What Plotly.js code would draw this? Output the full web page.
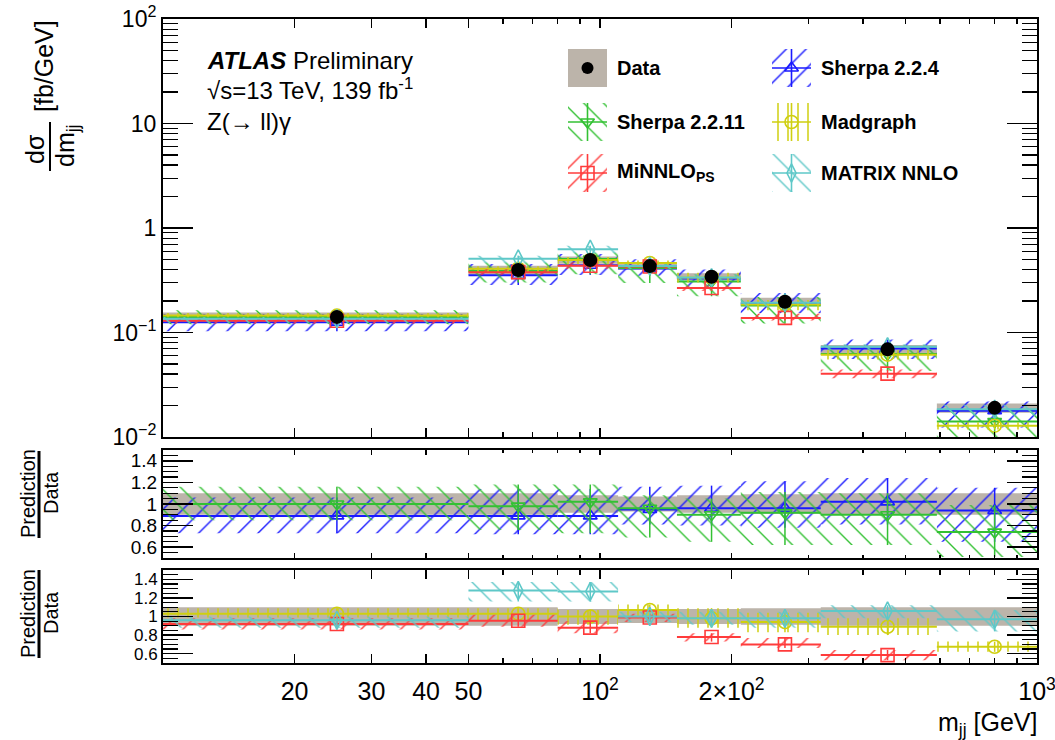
<!DOCTYPE html>
<html><head><meta charset="utf-8">
<script src="https://cdn.plot.ly/plotly-3.0.1.min.js"></script>
<style>html,body{margin:0;padding:0;background:#fff;}#chart{width:1055px;height:740px;}</style>
</head><body><div id="chart"></div>
<script>
// ---------------- data ----------------
const binEdges   = [10, 50, 80, 110, 150, 210, 320, 590, 1000];
const binCenters = [25, 65, 95, 130, 180, 265, 455, 800];
const dataXsec   = [0.141, 0.396, 0.494, 0.432, 0.342, 0.197, 0.069, 0.019];
const dataRelUnc = [0.10, 0.10, 0.08, 0.07, 0.08, 0.09, 0.10, 0.10];

const sherpa224Ratio = [0.89, 0.89, 0.89, 0.95, 0.96, 0.96, 1.02, 0.94];
const sherpa224Lo    = [0.73, 0.72, 0.72, 0.81, 0.80, 0.78, 0.81, 0.65];
const sherpa224Hi    = [1.06, 1.14, 1.14, 1.16, 1.17, 1.21, 1.24, 1.15];

const sherpa2211Ratio = [1.00, 0.98, 1.02, 0.96, 0.90, 0.92, 0.90, 0.74];
const sherpa2211Lo    = [0.85, 0.76, 0.73, 0.69, 0.65, 0.62, 0.62, 0.51];
const sherpa2211Hi    = [1.16, 1.18, 1.18, 1.08, 1.05, 1.11, 1.10, 0.99];

const madgraphRatio = [1.03, 1.03, 1.00, 1.07, 0.98, 0.94, 0.89, 0.675];
const madgraphLo    = [0.99, 0.96, 0.91, 0.98, 0.88, 0.83, 0.80, 0.62];
const madgraphHi    = [1.09, 1.09, 1.07, 1.13, 1.09, 1.04, 0.98, 0.73];

const minnloRatio = [0.92, 0.955, 0.88, 0.99, 0.78, 0.70, 0.585, null];
const minnloLo    = [0.86, 0.89, 0.82, 0.94, 0.73, 0.66, 0.53, null];
const minnloHi    = [0.98, 1.02, 0.95, 1.03, 0.82, 0.77, 0.64, null];

const matrixRatio = [0.96, 1.28, 1.27, 1.00, 0.98, 0.98, 1.06, 0.97];
const matrixLo    = [0.88, 1.16, 1.16, 0.94, 0.91, 0.88, 0.98, 0.84];
const matrixHi    = [1.00, 1.37, 1.37, 1.05, 1.05, 1.05, 1.12, 1.07];

const xTickVals  = [20, 30, 40, 50, 100, 200, 1000];
const xTickText  = ['20', '30', '40', '50', '10<sup>2</sup>', '2×10<sup>2</sup>', '10<sup>3</sup>'];
const xMinorVals = [60, 70, 80, 90, 300, 400, 500, 600, 700, 800, 900];
const yTickVals  = [0.01, 0.1, 1, 10, 100];
const yTickText  = ['10<sup>−2</sup>', '10<sup>−1</sup>', '1', '10', '10<sup>2</sup>'];
const rTickVals  = [0.6, 0.8, 1, 1.2, 1.4];
const rTickText  = ['0.6', '0.8', '1', '1.2', '1.4'];

// ---------------- styles ----------------
const FONT = 'Liberation Sans, Arial, Helvetica, sans-serif';
const BANDCOL = '#bcb4aa';
const series = {
  s224:  {name:'Sherpa 2.2.4',  ratio:sherpa224Ratio,  lo:sherpa224Lo,  hi:sherpa224Hi,  color:'#1a1aff', shape:'/',  psize:14, sol:0.1,  symbol:'triangle-up-open',   msize:12},
  s2211: {name:'Sherpa 2.2.11', ratio:sherpa2211Ratio, lo:sherpa2211Lo, hi:sherpa2211Hi, color:'#33c133', shape:'\\', psize:14, sol:0.1,  symbol:'triangle-down-open', msize:12},
  mg:    {name:'Madgraph',      ratio:madgraphRatio,   lo:madgraphLo,   hi:madgraphHi,   color:'#cfcf10', shape:'|',  psize:10, sol:0.15, symbol:'circle-open',        msize:13},
  mi:    {name:'MiNNLO_PS',     ratio:minnloRatio,     lo:minnloLo,     hi:minnloHi,     color:'#ff3b3b', shape:'/',  psize:14, sol:0.1,  symbol:'square-open',        msize:13},
  mx:    {name:'MATRIX NNLO',   ratio:matrixRatio,     lo:matrixLo,     hi:matrixHi,     color:'#5ec8c8', shape:'\\', psize:14, sol:0.1,  symbol:'diamond-tall-open',  msize:13}
};

// ---------------- geometry ----------------
const L = 163, R = 1037, T = 19, B = 663;
const px = x => (x - L) / (R - L);
const py = y => (B - y) / (B - T);

// ---------------- helpers ----------------
function boxes(lo, hi) {
  const x = [], y = [];
  for (let i = 0; i < binCenters.length; i++) {
    if (lo[i] == null || hi[i] == null) continue;
    const a = binEdges[i], b = binEdges[i + 1];
    x.push(a, b, b, a, a, null);
    y.push(lo[i], lo[i], hi[i], hi[i], lo[i], null);
  }
  return {x, y};
}
function steps(v) {
  const x = [], y = [];
  for (let i = 0; i < binCenters.length; i++) {
    if (v[i] == null) continue;
    x.push(binEdges[i], binEdges[i + 1], null);
    y.push(v[i], v[i], null);
  }
  return {x, y};
}
function predTraces(s, xa, ya, scale) {
  const c  = s.ratio.map((r, i) => r == null ? null : r * scale[i]);
  const lo = s.lo.map((r, i) => r == null ? null : r * scale[i]);
  const hi = s.hi.map((r, i) => r == null ? null : r * scale[i]);
  const bx = boxes(lo, hi), st = steps(c);
  const mx = [], my = [], ep = [], em = [];
  for (let i = 0; i < binCenters.length; i++) {
    if (c[i] == null) continue;
    mx.push(binCenters[i]); my.push(c[i]); ep.push(hi[i] - c[i]); em.push(c[i] - lo[i]);
  }
  return [
    {type:'scatter', x:bx.x, y:bx.y, xaxis:xa, yaxis:ya, mode:'lines', line:{width:0, color:s.color},
     fill:'toself', fillcolor:'rgba(0,0,0,0)',
     fillpattern:{shape:s.shape, size:s.psize, solidity:s.sol, fgcolor:s.color, bgcolor:'rgba(0,0,0,0)', fillmode:'replace'},
     hoverinfo:'skip', showlegend:false, name:s.name},
    {type:'scatter', x:st.x, y:st.y, xaxis:xa, yaxis:ya, mode:'lines', line:{width:2, color:s.color},
     hoverinfo:'skip', showlegend:false, name:s.name},
    {type:'scatter', x:mx, y:my, xaxis:xa, yaxis:ya, mode:'markers',
     marker:{symbol:s.symbol, size:s.msize, color:s.color, line:{color:s.color, width:1.6}},
     error_y:{type:'data', symmetric:false, array:ep, arrayminus:em, color:s.color, thickness:1.5, width:0},
     hoverinfo:'skip', showlegend:false, name:s.name}
  ];
}
function dataBand(xa, ya, scale) {
  const lo = dataRelUnc.map((u, i) => (1 - u) * scale[i]);
  const hi = dataRelUnc.map((u, i) => (1 + u) * scale[i]);
  const bx = boxes(lo, hi);
  return {type:'scatter', x:bx.x, y:bx.y, xaxis:xa, yaxis:ya, mode:'lines', line:{width:0, color:BANDCOL},
          fill:'toself', fillcolor:BANDCOL, hoverinfo:'skip', showlegend:false, name:'Data'};
}

const ones = binCenters.map(() => 1);
const traces = [];
// main panel
traces.push(dataBand('x3', 'y', dataXsec));
['s224', 's2211', 'mg', 'mi', 'mx'].forEach(k => traces.push(...predTraces(series[k], 'x3', 'y', dataXsec)));
traces.push({type:'scatter', x:binCenters, y:dataXsec, xaxis:'x3', yaxis:'y', mode:'markers',
  marker:{symbol:'circle', size:14, color:'#000'}, hoverinfo:'skip', showlegend:false, name:'Data'});
// ratio 1
traces.push(dataBand('x2', 'y2', ones));
['s224', 's2211'].forEach(k => traces.push(...predTraces(series[k], 'x2', 'y2', ones)));
// ratio 2
traces.push(dataBand('x', 'y3', ones));
['mg', 'mi', 'mx'].forEach(k => traces.push(...predTraces(series[k], 'x', 'y3', ones)));

// ---------------- legend (drawn in pixel space on an overlay subplot) ----------------
const colX = [568, 772], rowY = [49, 103, 154], BW = 39, BH = 38;
const legendLayout = [['data', 0, 0], ['s224', 1, 0], ['s2211', 0, 1], ['mg', 1, 1], ['mi', 0, 2], ['mx', 1, 2]];
const legendText = {data:'Data', s224:'Sherpa 2.2.4', s2211:'Sherpa 2.2.11', mg:'Madgraph', mi:'MiNNLO<sub>PS</sub>', mx:'MATRIX NNLO'};
const annotations = [];
legendLayout.forEach(([k, c, r]) => {
  const x0 = colX[c], y0 = rowY[r], x1 = x0 + BW, y1 = y0 + BH, xm = (x0 + x1) / 2, ym = (y0 + y1) / 2;
  if (k === 'data') {
    traces.push({type:'scatter', x:[x0, x1, x1, x0, x0], y:[y0, y0, y1, y1, y0], xaxis:'x4', yaxis:'y4', mode:'lines',
      line:{width:0, color:BANDCOL}, fill:'toself', fillcolor:BANDCOL, hoverinfo:'skip', showlegend:false});
    traces.push({type:'scatter', x:[xm], y:[ym], xaxis:'x4', yaxis:'y4', mode:'markers',
      marker:{symbol:'circle', size:12, color:'#000'}, hoverinfo:'skip', showlegend:false});
  } else {
    const s = series[k];
    traces.push({type:'scatter', x:[x0, x1, x1, x0, x0], y:[y0, y0, y1, y1, y0], xaxis:'x4', yaxis:'y4', mode:'lines',
      line:{width:0, color:s.color}, fill:'toself', fillcolor:'rgba(0,0,0,0)',
      fillpattern:{shape:s.shape, size:s.psize, solidity:s.sol, fgcolor:s.color, bgcolor:'rgba(0,0,0,0)', fillmode:'replace'},
      hoverinfo:'skip', showlegend:false});
    traces.push({type:'scatter', x:[x0, x1, null, xm, xm], y:[ym, ym, null, y0, y1], xaxis:'x4', yaxis:'y4', mode:'lines',
      line:{width:1.6, color:s.color}, hoverinfo:'skip', showlegend:false});
    traces.push({type:'scatter', x:[xm], y:[ym], xaxis:'x4', yaxis:'y4', mode:'markers',
      marker:{symbol:s.symbol, size:s.msize, color:s.color, line:{color:s.color, width:1.6}}, hoverinfo:'skip', showlegend:false});
  }
  annotations.push({xref:'paper', yref:'paper', x:px(x1 + 8), y:py(ym), xanchor:'left', yanchor:'middle', showarrow:false,
    text:'<b>' + legendText[k] + '</b>', font:{family:FONT, size:20, color:'#000'}});
});

// ---------------- texts ----------------
const ann = (x, y, text, size, opts) => Object.assign({xref:'paper', yref:'paper', x:px(x), y:py(y), text:text, showarrow:false,
  xanchor:'left', yanchor:'middle', font:{family:FONT, size:size, color:'#000'}}, opts || {});
annotations.push(ann(205, 61, '<b><i>ATLAS</i></b> Preliminary', 24));
annotations.push(ann(205, 89, '√s=13 TeV, 139 fb<sup>-1</sup>', 24));
annotations.push(ann(205, 121, 'Z(→ ll)γ', 24));
// main y title
annotations.push(ann(35, 149, 'dσ', 25, {xanchor:'center', textangle:-90}));
annotations.push(ann(67, 146, 'dm<sub>jj</sub>', 25, {xanchor:'center', textangle:-90}));
annotations.push(ann(44, 66, '[fb/GeV]', 25, {xanchor:'center', textangle:-90}));
// ratio titles
annotations.push(ann(28, 494, 'Prediction', 20, {xanchor:'center', textangle:-90}));
annotations.push(ann(51, 493, 'Data', 20, {xanchor:'center', textangle:-90}));
annotations.push(ann(28, 614, 'Prediction', 20, {xanchor:'center', textangle:-90}));
annotations.push(ann(51, 613, 'Data', 20, {xanchor:'center', textangle:-90}));
// x title
annotations.push(ann(1039, 724, 'm<sub>jj</sub> [GeV]', 25, {xanchor:'right'}));

const shapes = [
  {type:'line', xref:'paper', yref:'paper', x0:px(50), x1:px(50), y0:py(122), y1:py(171), line:{color:'#000', width:2}},
  {type:'line', xref:'paper', yref:'paper', x0:px(39), x1:px(39), y0:py(451), y1:py(538), line:{color:'#000', width:3}},
  {type:'line', xref:'paper', yref:'paper', x0:px(39), x1:px(39), y0:py(570), y1:py(658), line:{color:'#000', width:3}}
];

// ---------------- axes ----------------
const yMinor = [];
[0.01, 0.1, 1, 10].forEach(d => { for (let m = 2; m <= 9; m++) yMinor.push(+(d * m).toPrecision(3)); });
const rMinor = [];
for (let v = 0.5; v <= 1.5001; v += 0.05) rMinor.push(+v.toFixed(2));

function xAxis(anchor, labels, len) {
  return {type:'log', range:[1, 3], anchor:anchor, domain:[0, 1], showline:true, linecolor:'#000', linewidth:2, mirror:'ticks',
    ticks:'inside', ticklen:len, tickwidth:1.5, tickcolor:'#000', tickmode:'array', tickvals:xTickVals, ticktext:xTickText,
    showticklabels:labels, tickfont:{family:FONT, size:25, color:'#000'}, ticklabelstandoff:5, ticklabeloverflow:'allow',
    minor:{tickmode:'array', tickvals:xMinorVals, ticks:'inside', ticklen:Math.round(len * 0.6), tickwidth:1.2, tickcolor:'#000'},
    showgrid:false, zeroline:false, fixedrange:true};
}
function rAxis(anchor, dom, fs) {
  return {range:[0.5, 1.5], anchor:anchor, domain:dom, showline:true, linecolor:'#000', linewidth:2, mirror:'ticks',
    ticks:'inside', ticklen:30, tickwidth:1.5, tickcolor:'#000', tickmode:'array', tickvals:rTickVals, ticktext:rTickText,
    tickfont:{family:FONT, size:fs, color:'#000'},
    minor:{tickmode:'array', tickvals:rMinor, ticks:'inside', ticklen:15, tickwidth:1.2, tickcolor:'#000'},
    showgrid:false, zeroline:false, fixedrange:true};
}

const layout = {
  width:1055, height:740, margin:{l:L, r:1055 - R, t:T, b:740 - B},
  paper_bgcolor:'#fff', plot_bgcolor:'rgba(0,0,0,0)', showlegend:false,
  font:{family:FONT, color:'#000'},
  xaxis: xAxis('y3', true, 9),
  xaxis2: Object.assign(xAxis('y2', false, 5), {matches:'x'}),
  xaxis3: Object.assign(xAxis('y', false, 9), {matches:'x'}),
  yaxis: {type:'log', range:[-2, 2], anchor:'x3', domain:[py(437), 1], showline:true, linecolor:'#000', linewidth:2, mirror:'ticks',
    ticks:'inside', ticklen:30, tickwidth:1.5, tickcolor:'#000', tickmode:'array', tickvals:yTickVals, ticktext:yTickText,
    tickfont:{family:FONT, size:23, color:'#000'},
    minor:{tickmode:'array', tickvals:yMinor, ticks:'inside', ticklen:15, tickwidth:1.2, tickcolor:'#000'},
    showgrid:false, zeroline:false, fixedrange:true},
  yaxis2: rAxis('x2', [py(558), py(450)], 19),
  yaxis3: rAxis('x', [0, py(570)], 17),
  xaxis4: {overlaying:'x3', anchor:'y4', range:[L, R], visible:false, fixedrange:true},
  yaxis4: {overlaying:'y', anchor:'x4', range:[437, 19], visible:false, fixedrange:true},
  annotations: annotations,
  shapes: shapes
};

Plotly.newPlot('chart', traces, layout, {displayModeBar:false, staticPlot:true});
</script></body></html>
